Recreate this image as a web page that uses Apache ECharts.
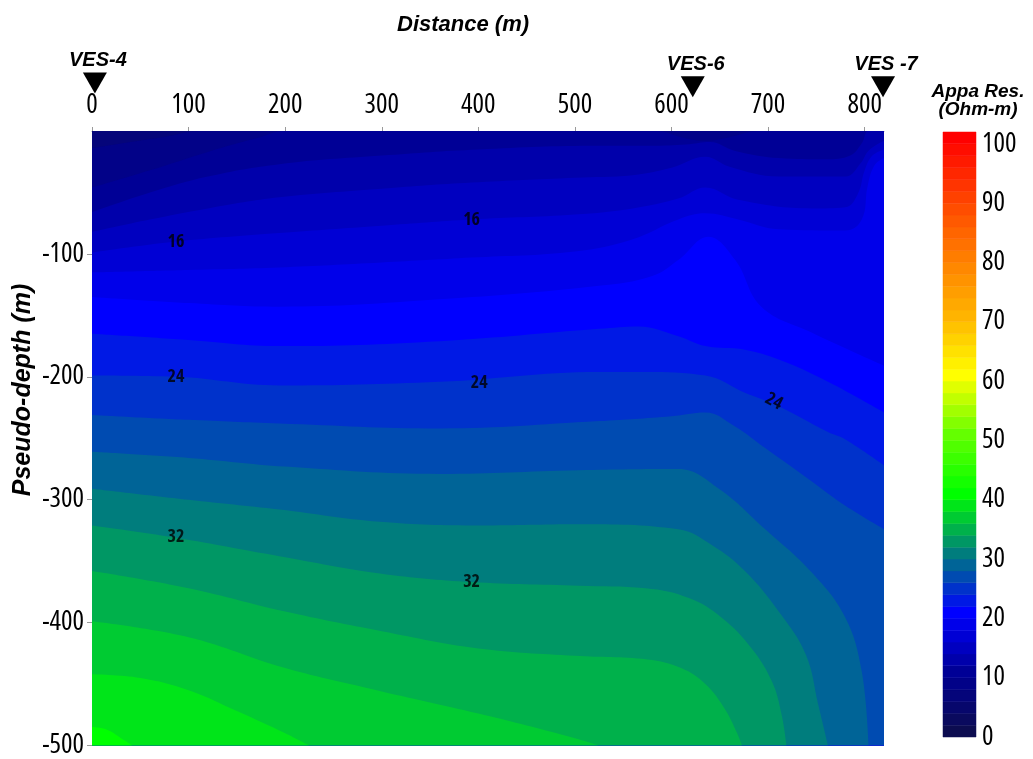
<!DOCTYPE html>
<html>
<head>
<meta charset="utf-8">
<script src="https://cdn.jsdelivr.net/npm/echarts@6/dist/echarts.min.js"></script>
<style>html,body{margin:0;background:#fff}#chart{width:1033px;height:759px}</style>
</head>
<body>
<div id="chart"></div>
<script>
// apparent resistivity contour lines, every 2 Ohm-m
// each line is a list of [distance (m), depth below surface (m)]
const c06 = [[0,0],[820,0]];
const c08 = [[0,14],[40,9],[80,4],[110,0],[820,0]];
const c10 = [[0,46],[60,32],[120,17],[170,6],[200,0],[585,0],[610,5],[635,8],[660,5],[690,0],[820,0]];
const c12 = [[0,66],[60,50],[120,37],[194,27],[300,20],[400,15],[525,12],[580,12],[615,11],[640,9],[665,16],[711,22],[760,23],[785,20],[797,10],[804,0],[820,0]];
const c14 = [[0,82],[60,72],[120,63],[194,54],[300,47],[393,42],[500,38],[560,36],[600,30],[635,21],[660,29],[711,37],[780,37],[796,26],[804,16],[820,8]];
const c16 = [[0,99],[87,90],[194,83],[300,77],[393,72],[500,68],[560,63],[607,55],[635,46],[669,56],[745,63],[780,62],[793,51],[800,32],[808,20],[820,15]];
const c18 = [[0,115],[100,113],[194,111],[300,107],[393,103],[500,98],[560,88],[607,72],[635,67],[669,72],[711,80],[780,81],[797,72],[803,45],[810,28],[820,22]];
const c20 = [[0,135],[100,140],[194,143],[360,137],[525,126],[580,118],[607,105],[638,86],[666,105],[693,143],[745,164],[820,191]];
const c22 = [[0,165],[100,170],[194,175],[360,171],[525,161],[566,159],[607,167],[635,175],[676,178],[711,186],[762,204],[820,229]];
const c24 = [[0,199],[87,200],[194,207],[360,204],[525,196],[573,196],[635,199],[676,213],[711,224],[762,245],[780,251],[820,272]];
const c26 = [[0,231],[100,235],[194,238],[360,242],[525,236],[600,232],[635,229],[665,240],[697,258],[745,285],[780,305],[820,324]];
const c28 = [[0,261],[100,266],[200,273],[360,279],[504,276],[607,275],[649,291],[697,324],[745,359],[780,396],[797,440],[804,500]];
const c30 = [[0,291],[100,300],[194,308],[298,318],[401,321],[504,320],[607,324],[642,337],[676,358],[711,391],[739,426],[752,467],[762,500]];
const c32 = [[0,321],[87,331],[194,346],[298,360],[393,367],[504,370],[573,372],[618,380],[652,396],[683,421],[704,448],[714,475],[719,500]];
const c34 = [[0,358],[100,372],[200,391],[300,407],[400,421],[500,427],[575,430],[610,437],[635,450],[655,470],[668,490],[673,500]];
const c36 = [[0,399],[100,412],[200,437],[300,456],[400,474],[500,494],[525,500]];
const c38 = [[0,442],[50,445],[100,455],[150,472],[200,490],[225,500]];
const c40 = [[0,485],[15,487],[30,494],[42,500]];

const levels = [6, 8, 10, 12, 14, 16, 18, 20, 22, 24, 26, 28, 30, 32, 34, 36, 38, 40];
const contours = [c06, c08, c10, c12, c14, c16, c18, c20, c22, c24, c26, c28, c30, c32, c34, c36, c38, c40];

// contour labels: [distance, depth, text]
const contourLabels = [[87,90,'16'],[393,72,'16'],[87,200,'24'],[401,205,'24'],[706,220,'24'],[87,330,'32'],[393,367,'32']];

// sounding stations
const stations = ['VES-4', 'VES-6', 'VES -7'];
const stationX = [3, 622, 819];

// colour bar breaks
const barLevels = [0,2,4,6,8,10,12,14,16,18,20,22,24,26,28,30,32,34,36,38,40,42,44,46,48,50,
  52,54,56,58,60,62,64,66,68,70,72,74,76,78,80,82,84,86,88,90,92,94,96,98,100,102];

const colorStops = [[0,[12,12,80]],[10,[0,0,150]],[20,[0,0,255]],[30,[0,125,125]],[40,[0,255,0]],
  [50,[100,255,0]],[60,[255,255,0]],[70,[255,180,0]],[80,[255,125,0]],[90,[255,65,0]],[100,[255,0,0]]];

function bandColor(v) {
  for (let i = 1; i < colorStops.length; i++) {
    const a = colorStops[i - 1], b = colorStops[i];
    if (v <= b[0]) {
      const t = (v - a[0]) / (b[0] - a[0]);
      const c = a[1].map((x, k) => Math.round(x + (b[1][k] - x) * t));
      return 'rgb(' + c.join(',') + ')';
    }
  }
  return 'rgb(255,0,0)';
}

// Open Sans is variable, 'condensed' gives the narrow tick figures
const narrow = '"Open Sans", "Liberation Sans", sans-serif';
const bold = '"Liberation Sans", Arial, sans-serif';

const contourSeries = levels.map((lv, i) => ({
  type: 'line',
  data: contours[i].map(p => [p[0], -p[1]]),
  smooth: 0.4,
  symbol: 'none',
  lineStyle: { width: 0 },
  areaStyle: { color: bandColor(lv), opacity: 1, origin: 'start' },
  silent: true,
  z: 2
}));

const tickFont = { fontFamily: narrow, fontStyle: 'condensed', fontSize: 27, color: '#000' };

const chart = echarts.init(document.getElementById('chart'));
chart.setOption({
  animation: false,
  title: {
    text: 'Distance (m)',
    left: 397, top: 14, padding: 0,
    textStyle: { fontFamily: bold, fontSize: 22, fontWeight: 'bold', fontStyle: 'italic', color: '#000' }
  },
  graphic: [
    { type: 'text', x: 23, y: 390, rotation: Math.PI / 2,
      style: { text: 'Pseudo-depth (m)', font: 'italic bold 25px ' + bold, fill: '#000', align: 'center', verticalAlign: 'middle' } },
    { type: 'text', x: 978, y: 83,
      style: { text: 'Appa Res.\n(Ohm-m)', font: 'italic bold 19px ' + bold, lineHeight: 18, fill: '#000', align: 'center', verticalAlign: 'top' } }
  ],
  grid: [
    { left: 92, top: 131, width: 792, height: 617 },
    { left: 943, top: 132, width: 33, height: 605 }
  ],
  xAxis: [{
    type: 'value', gridIndex: 0, position: 'top', min: 0, max: 820, interval: 100,
    axisLine: { lineStyle: { color: '#9a9a9a', width: 1 } },
    axisTick: { show: true, length: 4, lineStyle: { color: '#9a9a9a' } },
    axisLabel: Object.assign({ margin: 12, showMaxLabel: false }, tickFont),
    splitLine: { show: false }
  }, {
    type: 'value', gridIndex: 1, min: 0, max: 1, show: false
  }],
  yAxis: [{
    type: 'value', gridIndex: 0, min: -500, max: 0, interval: 100,
    axisLine: { show: true, lineStyle: { color: '#9a9a9a', width: 1 } },
    axisTick: { show: true, length: 5, lineStyle: { color: '#9a9a9a' } },
    axisLabel: Object.assign({ margin: 8, showMaxLabel: false }, tickFont),
    splitLine: { show: false }
  }, {
    type: 'value', gridIndex: 1, position: 'right', min: 0, max: 102, interval: 10,
    axisLine: { show: false }, axisTick: { show: false },
    axisLabel: Object.assign({ margin: 6, showMaxLabel: false }, tickFont),
    splitLine: { show: false }
  }],
  series: contourSeries.concat([
    {
      type: 'scatter',
      data: contourLabels.map(p => ({
        value: [p[0], -p[1]],
        label: { formatter: p[2], rotate: p[0] > 700 ? -28 : 0 }
      })),
      symbolSize: 1,
      itemStyle: { color: 'rgba(0,0,0,0)' },
      label: { show: true, position: 'inside', color: '#000', fontFamily: narrow, fontStyle: 'condensed', fontWeight: 'bold', fontSize: 18 },
      silent: true,
      z: 5
    },
    {
      type: 'scatter',
      clip: false,
      data: stations.map((s, i) => ({ value: [stationX[i], i === 0 ? 39 : 36], name: s })),
      symbol: 'triangle',
      symbolRotate: 180,
      symbolSize: [24, 21],
      itemStyle: { color: '#000', opacity: 1 },
      label: {
        show: true, position: 'top', distance: 2, offset: [3, 0],
        formatter: '{b}', color: '#000', fontFamily: bold, fontWeight: 'bold', fontStyle: 'italic', fontSize: 20
      },
      silent: true,
      z: 6
    },
    {
      type: 'custom',
      xAxisIndex: 1, yAxisIndex: 1,
      data: barLevels.slice(0, -1).map((lo, i) => [lo, barLevels[i + 1]]),
      renderItem: function (params, api) {
        const p0 = api.coord([0, api.value(1)]);
        const p1 = api.coord([1, api.value(0)]);
        return {
          type: 'rect',
          shape: { x: p0[0], y: p0[1], width: p1[0] - p0[0], height: p1[1] - p0[1] },
          style: { fill: bandColor(api.value(0)), stroke: bandColor(api.value(0)), lineWidth: 0.5 }
        };
      },
      silent: true
    }
  ])
});
</script>
</body>
</html>
